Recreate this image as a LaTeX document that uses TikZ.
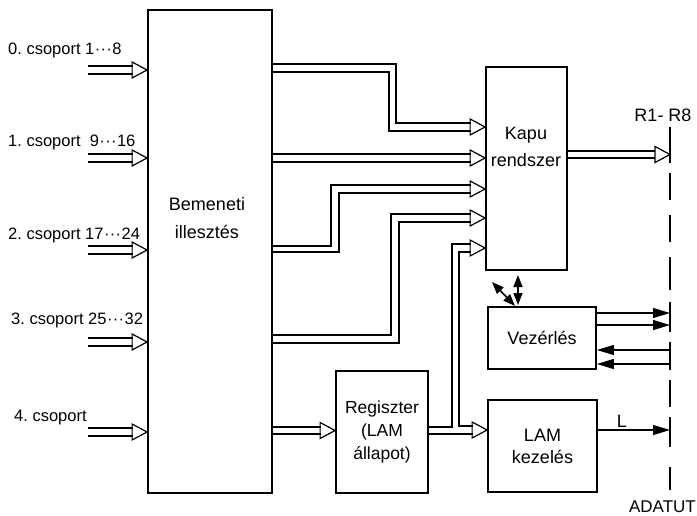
\documentclass[tikz,border=0pt]{standalone}
\usepackage{fontspec}
\setmainfont{Liberation Sans}
\usetikzlibrary{arrows.meta,calc}
\newcommand\ohd[1]{\draw[ohead] (#1) -- ++(-15,-8) -- ++(0,16) -- cycle;}
\newcommand\rng{\kern0.5pt·\kern0.3pt·\kern0.3pt·\kern0.5pt}
\begin{document}
\begin{tikzpicture}[x=1pt,y=-1pt,
  blk/.style={draw, line width=1.8pt, inner sep=0pt},
  wire/.style={line width=1.2pt, line join=miter},
  ohead/.style={draw, line width=1.2pt, line join=miter},
  sig/.style={line width=1.2pt, -{Triangle[length=17pt,width=10pt]}},
  dsig/.style={line width=1.6pt, {Triangle[length=12pt,width=9pt]}-{Triangle[length=12pt,width=9pt]}},
  busline/.style={line width=1.3pt},
  txt/.style={font=\fontsize{18}{23}\selectfont, inner sep=0pt, align=center},
  grp/.style={font=\fontsize{16.5}{20}\selectfont, inner sep=0pt, anchor=west},
]
\useasboundingbox (0,0) rectangle (697,515);
% blocks
\node[blk, minimum width=124pt, minimum height=483pt] (bem) at (210,251.5) {};
\node[blk, minimum width=81pt, minimum height=203pt] (kapu) at (526.5,168.5) {};
\node[blk, minimum width=108pt, minimum height=62pt, txt] (vez) at (542,338) {Vezérlés};
\node[blk, minimum width=109pt, minimum height=92pt, txt, font=\fontsize{18}{22}\selectfont] (lam) at (542.5,446) {LAM\\kezelés};
\node[blk, minimum width=92pt, minimum height=122pt, txt, font=\fontsize{17.5}{23}\selectfont] (reg) at (382,432) {Regiszter\\(LAM\\állapot)};
\node[txt, font=\fontsize{18}{28}\selectfont] (bemtxt) at (207,218) {Bemeneti\\illesztés};
\node[txt, font=\fontsize{18}{27}\selectfont] (kaputxt) at (526,146.5) {Kapu\\rendszer};
% input labels
\node[grp] (g0) at (8,50) {0.\ csoport 1\rng8};
\node[grp] (g1) at (8,142) {1.\ csoport \ 9\rng16};
\node[grp] (g2) at (8,235) {2.\ csoport 17\rng24};
\node[grp] (g3) at (11,320) {3.\ csoport 25\rng32};
\node[grp] (g4) at (14,418) {4.\ csoport};
% bus labels
\node[txt] (r18) at (663,115) {R1- R8};
\node[txt, anchor=east, font=\fontsize{17}{20}\selectfont] (adat) at (696,507) {ADATUT};
\node[txt] (lbl) at (622,421) {L};
% input buses
\foreach \y in {70,158,250,342,432}{
  \draw[wire] (88,\y-4) -- (133,\y-4) (88,\y+4) -- (133,\y+4);
  \ohd{bem.west |- 0,\y}
}
% Bemeneti -> Kapu
\draw[wire] (bem.east |- 0,64) -- (396,64) -- (396,123) -- (471,123);
\draw[wire] (bem.east |- 0,72) -- (389,72) -- (389,131) -- (471,131);
\ohd{kapu.west |- 0,127}
\draw[wire] (bem.east |- 0,154) -- (471,154);
\draw[wire] (bem.east |- 0,162) -- (471,162);
\ohd{kapu.west |- 0,158}
\draw[wire] (bem.east |- 0,246) -- (331,246) -- (331,185) -- (471,185);
\draw[wire] (bem.east |- 0,252) -- (339,252) -- (339,193) -- (471,193);
\ohd{kapu.west |- 0,189}
\draw[wire] (bem.east |- 0,335) -- (391,335) -- (391,214) -- (471,214);
\draw[wire] (bem.east |- 0,343) -- (399,343) -- (399,222) -- (471,222);
\ohd{kapu.west |- 0,218}
% Bemeneti -> Regiszter
\draw[wire] (bem.east |- 0,427) -- (321,427);
\draw[wire] (bem.east |- 0,434) -- (321,434);
\ohd{reg.west |- 0,430.5}
% Regiszter -> Kapu and LAM
\draw[wire] (reg.east |- 0,427) -- (452,427) -- (452,244) -- (471,244);
\draw[wire] (473,426) -- (459,426) -- (459,252) -- (471,252);
\ohd{kapu.west |- 0,248}
\draw[wire] (reg.east |- 0,434) -- (473,434);
\ohd{lam.west |- 0,430}
% Kapu -> bus
\coordinate (busx) at (670,0);
\draw[wire] (kapu.east |- 0,151) -- (655,151);
\draw[wire] (kapu.east |- 0,158) -- (655,158);
\ohd{busx |- 0,154.5}
% Vezerles <-> bus
\draw[sig] (vez.east |- 0,313) -- (busx |- 0,313);
\draw[sig] (vez.east |- 0,325) -- (busx |- 0,325);
\draw[sig] (busx |- 0,350) -- (vez.east |- 0,350);
\draw[sig] (busx |- 0,364) -- (vez.east |- 0,364);
% LAM -> bus
\draw[sig] (lam.east |- 0,430) -- (busx |- 0,430);
% Kapu <-> Vezerles
\coordinate (k1) at (518,275);
\coordinate (v1) at (518,305);
\coordinate (k2) at (492,282);
\coordinate (v2) at (515,306);
\draw[dsig] (k1) -- (v1);
\draw[dsig] (k2) -- (v2);
% dashed bus line
\foreach \a/\b in {127/163,173/200,215/242,257/290,302/332,342/370,380/407,417/447,467/490}
  \draw[busline] (busx |- 0,\a) -- (busx |- 0,\b);
\end{tikzpicture}
\end{document}
